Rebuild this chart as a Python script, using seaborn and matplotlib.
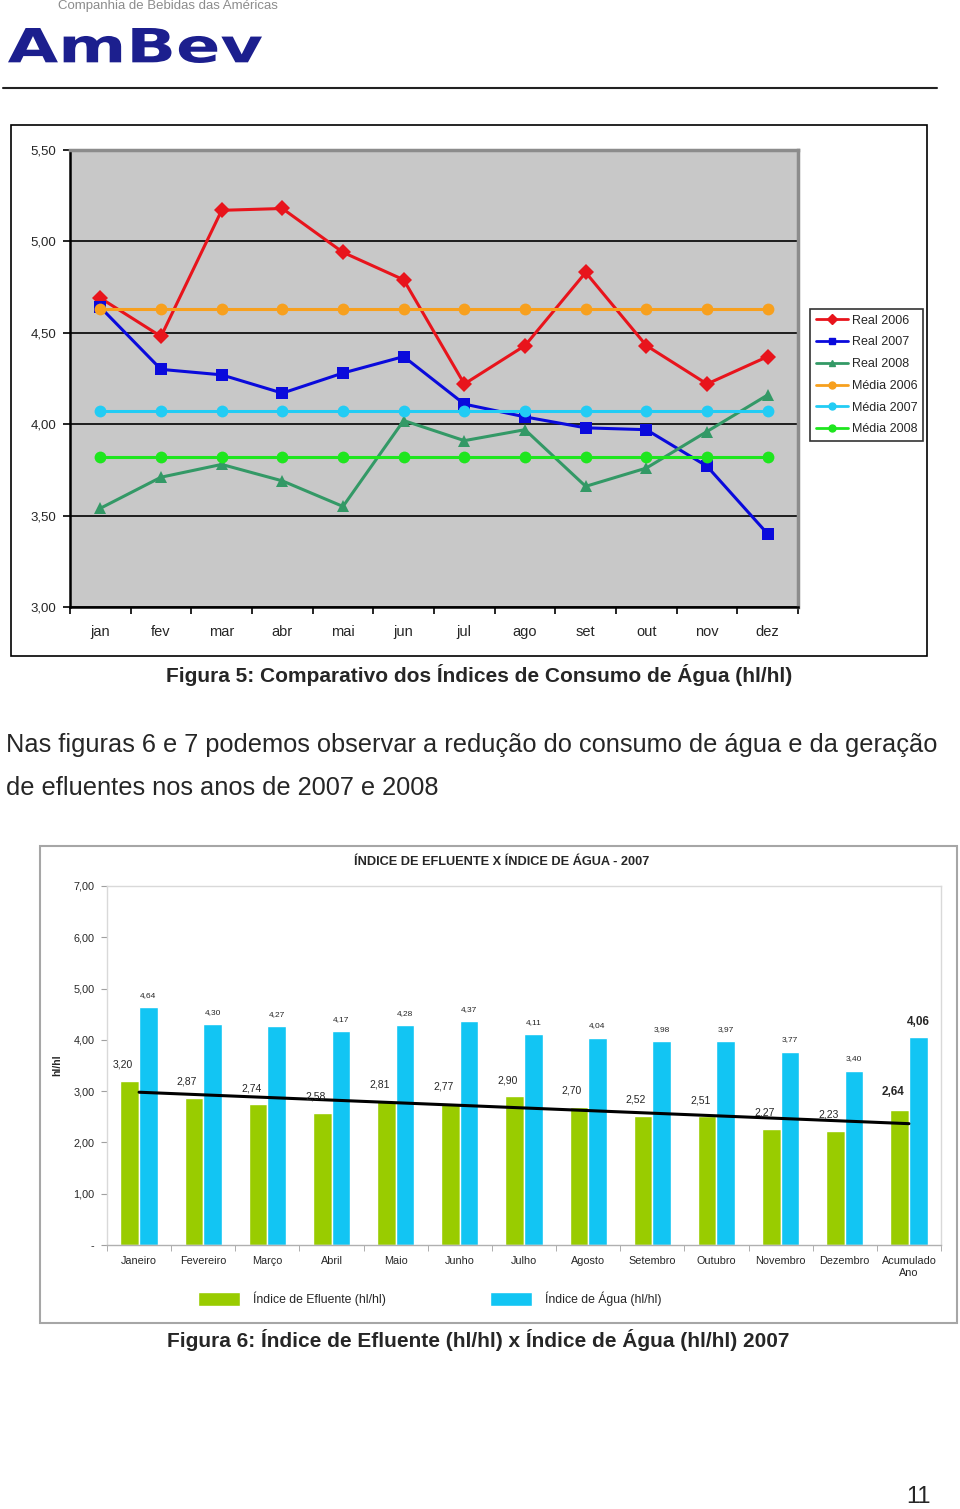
import seaborn as sns
import matplotlib.pyplot as plt
import numpy as np
import pandas as pd
from matplotlib.patches import Rectangle, PathPatch
from matplotlib.lines import Line2D
from matplotlib.textpath import TextPath
from matplotlib.font_manager import FontProperties
from matplotlib.transforms import Affine2D

# ---- dados: figura 5 (consumo de água, hl/hl) ----
meses = ['jan', 'fev', 'mar', 'abr', 'mai', 'jun', 'jul', 'ago', 'set', 'out', 'nov', 'dez']
real_2006 = [4.69, 4.48, 5.17, 5.18, 4.94, 4.79, 4.22, 4.43, 4.83, 4.43, 4.22, 4.37]
real_2007 = [4.64, 4.30, 4.27, 4.17, 4.28, 4.37, 4.11, 4.04, 3.98, 3.97, 3.77, 3.40]
real_2008 = [3.54, 3.71, 3.78, 3.69, 3.55, 4.02, 3.91, 3.97, 3.66, 3.76, 3.96, 4.16]
media_2006 = 4.63
media_2007 = 4.07
media_2008 = 3.82

# ---- dados: figura 6 (efluente x água 2007) ----
categorias = ['Janeiro', 'Fevereiro', 'Março', 'Abril', 'Maio', 'Junho', 'Julho',
              'Agosto', 'Setembro', 'Outubro', 'Novembro', 'Dezembro', 'Acumulado\nAno']
efluente = [3.20, 2.87, 2.74, 2.58, 2.81, 2.77, 2.90, 2.70, 2.52, 2.51, 2.27, 2.23, 2.64]
agua = [4.64, 4.30, 4.27, 4.17, 4.28, 4.37, 4.11, 4.04, 3.98, 3.97, 3.77, 3.40, 4.06]

sns.set_style('white')
plt.rcParams['font.family'] = ['Liberation Sans', 'DejaVu Sans']

W, H = 960, 1509
fig = plt.figure(figsize=(W / 100, H / 100), dpi=100)


def box(x0, y0, x1, y1):
    return [x0 / W, 1 - y1 / H, (x1 - x0) / W, (y1 - y0) / H]


def fy(y):
    return 1 - y / H


def fmt(v):
    return f'{v:.2f}'.replace('.', ',')


# ---- cabeçalho ----
fig.text(58 / W, fy(6), 'Companhia de Bebidas das Américas', color='#8C8C8C',
         fontsize=9.5, va='center', ha='left')
tp = TextPath((0, 0), 'AmBev', size=1, prop=FontProperties(family='DejaVu Sans', weight='bold'))
ext = tp.get_extents()
sx = (262 - 8) / ext.width
sy = (63 - 28) / ext.height
tr = Affine2D().translate(-ext.x0, -ext.y0).scale(sx, sy).translate(8, H - 63)
fig.patches.append(PathPatch(tp, transform=tr, color='#1C1F8E', lw=0))
fig.add_artist(Line2D([3 / W, 937 / W], [fy(88), fy(88)], color='#222222', lw=1.5))

# ---- figura 5 ----
fig.patches.append(Rectangle((11 / W, fy(656)), (927 - 11) / W, (656 - 125) / H,
                             transform=fig.transFigure, fill=False, ec='black', lw=1.2))
ax1 = fig.add_axes(box(70, 150, 798, 607))

series = ['Real 2006', 'Real 2007', 'Real 2008', 'Média 2006', 'Média 2007', 'Média 2008']
cores = ['#E8141C', '#0A0ADC', '#339966', '#F7A01E', '#22CCF4', '#1EE61E']
marcadores = ['D', 's', '^', 'o', 'o', 'o']
valores = [real_2006, real_2007, real_2008,
           [media_2006] * 12, [media_2007] * 12, [media_2008] * 12]
df_linhas = pd.DataFrame({
    'mes': meses * 6,
    'valor': np.concatenate(valores),
    'serie': np.repeat(series, 12),
})
sns.lineplot(data=df_linhas, x='mes', y='valor', hue='serie', style='serie',
             palette=dict(zip(series, cores)), markers=dict(zip(series, marcadores)),
             dashes=False, sort=False, lw=2.2, markersize=8.5, markeredgewidth=0,
             legend=False, ax=ax1)
ax1.set_facecolor('#C8C8C8')
ax1.set_xlim(-0.5, 11.5)
ax1.set_ylim(3.0, 5.5)
yt = np.arange(3.0, 5.51, 0.5)
ax1.set_yticks(yt)
ax1.set_yticklabels([fmt(v) for v in yt], fontsize=9.5)
ax1.yaxis.grid(True, color='black', lw=1.2)
ax1.set_axisbelow(True)
ax1.set_xticks(range(12))
ax1.set_xticklabels(meses, fontsize=10.5)
ax1.set_xticks(np.arange(-0.5, 12, 1), minor=True)
ax1.tick_params(axis='x', which='major', length=0, pad=13)
ax1.tick_params(axis='x', which='minor', length=5, width=1.2, color='black', direction='out', bottom=True)
ax1.tick_params(axis='y', length=5, width=1.2, color='black', direction='out', left=True, pad=5)
ax1.set_xlabel('')
ax1.set_ylabel('')
for s in ['left', 'bottom']:
    ax1.spines[s].set_color('black')
    ax1.spines[s].set_linewidth(1.8)
for s in ['top', 'right']:
    ax1.spines[s].set_color('#8C8C8C')
    ax1.spines[s].set_linewidth(2.5)

handles = [Line2D([], [], color=c, marker=m, lw=2, markersize=5) for c, m in zip(cores, marcadores)]
leg1 = ax1.legend(handles, series, loc='upper left', bbox_to_anchor=(810 / W, fy(309)),
                  bbox_transform=fig.transFigure, fontsize=9, frameon=True, fancybox=False,
                  edgecolor='black', handlelength=2.6, handletextpad=0.3, labelspacing=0.78,
                  borderpad=0.45, borderaxespad=0)
leg1.get_frame().set_linewidth(1.2)

fig.text(479 / W, fy(675), 'Figura 5: Comparativo dos Índices de Consumo de Água (hl/hl)',
         fontsize=15, fontweight='bold', ha='center', va='center')

fig.text(6 / W, fy(745), 'Nas figuras 6 e 7 podemos observar a redução do consumo de água e da geração',
         fontsize=18.3, ha='left', va='center')
fig.text(6 / W, fy(788), 'de efluentes nos anos de 2007 e 2008', fontsize=18.3, ha='left', va='center')

# ---- figura 6 ----
fig.patches.append(Rectangle((40 / W, fy(1323)), (957 - 40) / W, (1323 - 846) / H,
                             transform=fig.transFigure, fill=False, ec='#A6A6A6', lw=1.5))
ax2 = fig.add_axes(box(107, 886, 941, 1245))
indices = ['Índice de Efluente (hl/hl)', 'Índice de Água (hl/hl)']
df_barras = pd.DataFrame({
    'categoria': categorias * 2,
    'valor': efluente + agua,
    'indice': np.repeat(indices, len(categorias)),
})
sns.barplot(data=df_barras, x='categoria', y='valor', hue='indice',
            palette=['#99CC00', '#12C5F3'], saturation=1, width=0.58, gap=0,
            ax=ax2, legend=True)
ax2.set_xlim(-0.5, 12.5)
ax2.set_ylim(0, 7)
ax2.set_yticks(range(8))
ax2.set_yticklabels(['-'] + [fmt(v) for v in range(1, 8)], fontsize=7.8)
ax2.tick_params(axis='y', length=4, color='#A0A0A0', left=True, pad=5)
ax2.set_xticks(np.arange(-0.5, 13, 1), minor=True)
ax2.tick_params(axis='x', which='major', length=0, pad=8, labelsize=7.8)
ax2.tick_params(axis='x', which='minor', length=4, color='#A0A0A0', bottom=True)
ax2.set_xlabel('')
ax2.set_ylabel('')
for s in ax2.spines.values():
    s.set_color('#D9D9D9')
    s.set_linewidth(1)
ax2.spines['bottom'].set_color('#B0B0B0')

# linha de tendência (linear) do efluente
xs = np.arange(len(categorias))
coef = np.polyfit(xs, efluente, 1)
ax2.plot(xs, np.polyval(coef, xs), color='black', lw=2.2, zorder=5)

ultimo = len(categorias) - 1
for i, bar in enumerate(ax2.containers[0]):
    bold = i == ultimo
    ax2.annotate(fmt(efluente[i]), (bar.get_x() + bar.get_width() / 2, bar.get_height()),
                 xytext=(-5, 8), textcoords='offset points', ha='center', va='bottom',
                 fontsize=8.5 if bold else 7.5, fontweight='bold' if bold else 'normal', zorder=6)
for i, bar in enumerate(ax2.containers[1]):
    bold = i == ultimo
    ax2.annotate(fmt(agua[i]), (bar.get_x() + bar.get_width() / 2, bar.get_height()),
                 xytext=(0, 6), textcoords='offset points', ha='center', va='bottom',
                 fontsize=8.5 if bold else 6, fontweight='bold' if bold else 'normal')

ax2.legend(loc='center left', bbox_to_anchor=(198 / W, fy(1299)), bbox_transform=fig.transFigure,
           ncol=2, frameon=False, fontsize=8.8, handlelength=3.45, handleheight=1.3,
           handletextpad=1.07, columnspacing=8.5, borderaxespad=0, borderpad=0)

fig.text(502 / W, fy(862), 'ÍNDICE DE EFLUENTE X ÍNDICE DE ÁGUA - 2007', fontsize=9.2,
         fontweight='bold', ha='center', va='center')
fig.text(57 / W, fy(1065), 'hl/hl', fontsize=7.5, fontweight='bold', rotation=90,
         ha='center', va='center')

fig.text(478 / W, fy(1340), 'Figura 6: Índice de Efluente (hl/hl) x Índice de Água (hl/hl) 2007',
         fontsize=15, fontweight='bold', ha='center', va='center')

fig.text(918 / W, fy(1497), '11', fontsize=17, ha='center', va='center')

plt.savefig('out.png', dpi=100)
